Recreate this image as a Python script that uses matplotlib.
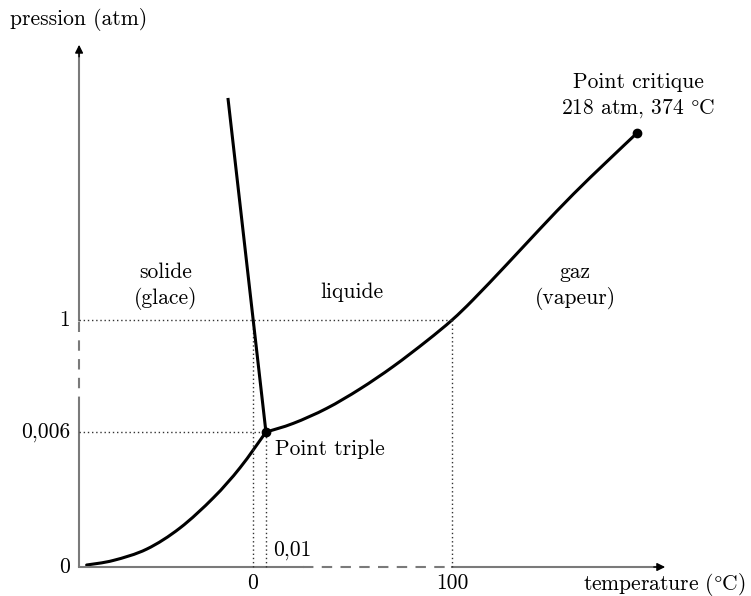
import numpy as np
import matplotlib.pyplot as plt
from matplotlib.path import Path
from matplotlib.patches import PathPatch

# Diagramme de phase de l'eau (schématique)
# axe x : température (°C, échelle schématique), axe y : position schématique de la pression

# courbe de sublimation (solide / gaz)
sub_T = [-83.6, -70.2, -53.4, -36.7, -19.9, -6.5, 6.5]
sub_P = [1.0, 3.3, 9.0, 19.6, 34.8, 49.9, 67.8]

# courbe de vaporisation (liquide / gaz)
vap_T = [6.5, 20.3, 37.0, 53.8, 70.5, 87.3, 100.0, 110.7, 127.5, 144.2, 161.0, 177.7, 193.0]
vap_P = [67.8, 72.2, 79.7, 89.5, 100.8, 113.6, 124.1, 134.4, 152.0, 169.9, 187.4, 203.6, 218.1]

# courbe de fusion (solide / liquide)
fus_T = [-12.6, 6.5]
fus_P = [235.7, 67.8]

triple = (6.5, 67.8)
critique = (193.0, 218.1)
T_fus = 0.0        # fusion à 1 atm
T_eb = 100.0       # ébullition à 1 atm
P_1atm = 124.1
P_triple = 67.8

yticks_pos = [0, P_triple, P_1atm]
yticks_lab = ['0', '0,006', '1']
xticks_pos = [0, 100]
xticks_lab = ['0', '100']

plt.rcParams['font.family'] = ['cmr10', 'DejaVu Serif']
plt.rcParams['mathtext.fontset'] = 'cm'
plt.rcParams['axes.unicode_minus'] = False


def courbe_lisse(xs, ys):
    # passe une courbe de Bézier (Catmull-Rom) par les points lus
    pts = np.column_stack([xs, ys])
    n = len(pts)
    verts = [pts[0]]
    codes = [Path.MOVETO]
    for i in range(n - 1):
        p0 = pts[i - 1] if i > 0 else pts[i]
        p1, p2 = pts[i], pts[i + 1]
        p3 = pts[i + 2] if i + 2 < n else pts[i + 1]
        c1 = p1 + (p2 - p0) / 6
        c2 = p2 - (p3 - p1) / 6
        verts += [c1, c2, p2]
        codes += [Path.CURVE4] * 3
    return Path(verts, codes)


fig = plt.figure(figsize=(7.51, 5.96), dpi=100)
ax = fig.add_axes([0, 0, 1, 1])
ax.set_xlim(-127.14, 250.25)
ax.set_ylim(-14.57, 284.92)
ax.axis('off')

x0 = -87.4   # position de l'axe des pressions
gris = '#7a7a7a'
fs = 15.5

# axes
ax.plot([x0, x0], [0, 80.4], color=gris, lw=1.5, solid_capstyle='butt')
ax.plot([x0, x0], [80.4, P_1atm], color=gris, lw=1.5, ls=(0, (5, 4)))
ax.plot([x0, x0], [P_1atm, 260], color=gris, lw=1.5)
ax.plot([x0, 25.1], [0, 0], color=gris, lw=1.5)
ax.plot([25.1, T_eb], [0, 0], color=gris, lw=1.5, ls=(0, (5, 4)))
ax.plot([T_eb, 205], [0, 0], color=gris, lw=1.5)
ax.annotate('', xy=(x0, 263.8), xytext=(x0, 255),
            arrowprops=dict(arrowstyle='-|>', color='black', lw=1, mutation_scale=12))
ax.annotate('', xy=(208.5, 0), xytext=(200, 0),
            arrowprops=dict(arrowstyle='-|>', color='black', lw=1, mutation_scale=12))

# pointillés de repère
dot = dict(color='#333333', lw=1, ls=(0, (1, 2)))
ax.plot([x0, T_eb], [P_1atm, P_1atm], **dot)
ax.plot([T_eb, T_eb], [0, P_1atm], **dot)
ax.plot([x0, triple[0]], [P_triple, P_triple], **dot)
ax.plot([triple[0], triple[0]], [0, P_triple], **dot)
ax.plot([T_fus, T_fus], [0, P_1atm], **dot)

# courbes
for xs, ys in [(sub_T, sub_P), (vap_T, vap_P)]:
    ax.add_patch(PathPatch(courbe_lisse(xs, ys), fill=False, edgecolor='black',
                           lw=2.2, capstyle='round', joinstyle='round'))
ax.plot(fus_T, fus_P, color='black', lw=2.2, solid_capstyle='butt')
ax.plot(*triple, 'o', color='black', ms=6)
ax.plot(*critique, 'o', color='black', ms=6)

# graduations
for p, lab in zip(yticks_pos, yticks_lab):
    ax.text(-92, p, lab, ha='right', va='center', fontsize=fs)
for t, lab in zip(xticks_pos, xticks_lab):
    ax.text(t, -8, lab, ha='center', va='center', fontsize=fs)
ax.text(10, 8.5, '0,01', ha='left', va='center', fontsize=fs)

# titres des axes
ax.text(-122.1, 274.9, 'pression (atm)', ha='left', va='center', fontsize=fs)
ax.text(247.8, -8.6, r'temperature ($\degree$C)', ha='right', va='center', fontsize=fs)

# zones et points
ax.text(-43.7, 141, 'solide\n(glace)', ha='center', va='center', fontsize=fs, linespacing=1.3)
ax.text(49.7, 138.2, 'liquide', ha='center', va='center', fontsize=fs)
ax.text(161.8, 141, 'gaz\n(vapeur)', ha='center', va='center', fontsize=fs, linespacing=1.3)
ax.text(11, 59.3, 'Point triple', ha='left', va='center', fontsize=fs)
ax.text(193.5, 236.5, 'Point critique\n' + r'218 atm, 374 $\degree$C', ha='center', va='center',
        fontsize=fs, linespacing=1.3)

fig.savefig('out.png', dpi=100)
